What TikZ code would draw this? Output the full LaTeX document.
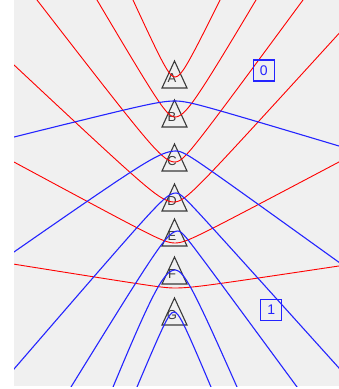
\documentclass[tikz,border=0pt]{standalone}
\usepackage{fontspec}
\setmainfont{Liberation Sans}
\definecolor{bg}{HTML}{F0F0F0}
\definecolor{myblue}{HTML}{2424FF}
\definecolor{tricol}{HTML}{3A3A3A}
% #1 style, #2 xc, #3 yv, #4 dir (+1 opens down, -1 opens up), #5 bL, #6 sL, #7 bR, #8 sR
\newcommand\hypcurve[8]{%
  \draw[#1] plot[domain=-200:0,samples=101] ({#2+\x},{#3+(#4)*(veclen(#5,#6*\x)-#5)})
    -- plot[domain=0:200,samples=101] ({#2+\x},{#3+(#4)*(veclen(#7,#8*\x)-#7)});}
\begin{document}
\begin{tikzpicture}[x=1pt,y=-1pt,
  redline/.style={draw=red, line width=0.9pt, line join=round},
  blueline/.style={draw=myblue, line width=1.1pt, line join=round},
  tri/.style={draw=tricol, line width=1.1pt},
  lbl/.style={text=tricol, font=\fontsize{13}{13}\selectfont, inner sep=0pt},
  boxlbl/.style={draw=myblue, text=myblue, line width=1.3pt, minimum width=21pt,
    minimum height=21pt, inner sep=0pt, font=\fontsize{14}{14}\selectfont}]
\useasboundingbox (0,0) rectangle (339,389);
\fill[white] (0,0) rectangle (339,389);
\fill[bg] (14,0) rectangle (339,386);
\foreach \n/\ya in {A/61,B/100,C/144,D/184,E/219,F/257,G/298} {
  \draw[tri] (174.5,\ya) -- (187,\ya+27) -- (162,\ya+27) -- cycle;
  \node[lbl] (\n) at (172,\ya+17.5) {\n};
}
\begin{scope}
\clip (14,0) rectangle (339,386);
% red curves (open upwards)
\hypcurve{redline}{175}{77}{-1}{16.9}{2.2}{16.8}{2.05}
\hypcurve{redline}{175}{117}{-1}{16.6}{1.7}{22.5}{1.7}
\hypcurve{redline}{175}{162}{-1}{18.3}{1.3}{12.5}{1.36}
\hypcurve{redline}{174}{202}{-1}{14}{0.94}{13.4}{1.1}
\hypcurve{redline}{175}{243}{-1}{6.2}{0.54}{6.1}{0.53}
\hypcurve{redline}{175}{288}{-1}{2}{0.16}{2.9}{0.151}
% blue curves (open downwards)
\hypcurve{blueline}{175}{101}{1}{4.5}{0.25}{4.4}{0.3}
\hypcurve{blueline}{176}{151}{1}{13.2}{0.7}{6.2}{0.72}
\hypcurve{blueline}{176}{193}{1}{12.3}{1.16}{6}{1.11}
\hypcurve{blueline}{178}{231}{1}{19.5}{1.63}{6}{1.36}
\hypcurve{blueline}{175}{270}{1}{44}{2.5}{28.4}{2.3}
\hypcurve{blueline}{174}{312}{1}{15}{2.4}{15}{2.4}
\end{scope}
\node[boxlbl] (b0) at (263.8,70.5) {0};
\node[boxlbl] (b1) at (271.2,310) {1};
\end{tikzpicture}
\end{document}
